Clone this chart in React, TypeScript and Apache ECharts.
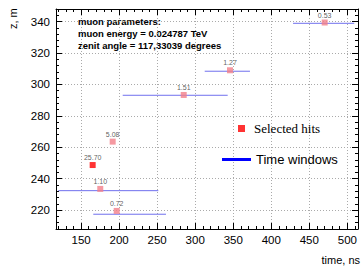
import React, { useEffect, useRef } from "react";
import * as echarts from "echarts";

const hitTime = [470.2, 345.7, 284.9, 191.5, 165.2, 175.2, 196.8];
const hitZ = [339.4, 309.0, 293.3, 263.6, 248.7, 233.5, 219.5];
const hitLabel = ["0.53", "1.27", "1.51", "5.08", "25.70", "1.10", "0.72"];
const hitColor = ["#f2808a", "#f2808a", "#f2808a", "#f2808a", "#ff0000", "#f2808a", "#f2808a"];

const winStart = [428.6, 312.5, 204.7, 120.0, 166.0];
const winEnd = [509.0, 372.0, 342.7, 251.5, 261.6];
const winZ = [338.9, 308.4, 293.1, 232.4, 217.4];

const infoLines = [
  "muon parameters:",
  "muon energy = 0.024787 TeV",
  "zenit angle = 117,33039 degrees",
];

const X_MIN = 117;
const X_MAX = 514;
const Y_MIN = 208;
const Y_MAX = 348;

const FONT = "'Liberation Sans', Arial, sans-serif";

export default function App() {
  const ref = useRef<HTMLDivElement>(null);
  useEffect(() => {
    if (!ref.current) return;
    const chart = echarts.init(ref.current, null, { renderer: "svg" });
    const tickCommon = {
      axisTick: { show: true, inside: true, length: 6, lineStyle: { color: "#000" } },
      minorTick: { show: true, splitNumber: 5, length: 3, lineStyle: { color: "#000" } },
      axisLine: { show: true, onZero: false, lineStyle: { color: "#000", width: 1 } },
    };
    const xBase = {
      type: "value" as const,
      min: X_MIN,
      max: X_MAX,
      splitNumber: 8,
      ...tickCommon,
    };
    const yBase = {
      type: "value" as const,
      min: Y_MIN,
      max: Y_MAX,
      splitNumber: 7,
      ...tickCommon,
    };
    const windowSeries = winStart.map((s, i) => ({
      type: "line" as const,
      name: "Time windows",
      data: [
        [s, winZ[i]],
        [winEnd[i], winZ[i]],
      ],
      showSymbol: false,
      symbol: "none",
      lineStyle: { color: "#7070ee", width: 1 },
      itemStyle: { color: "#0000ff" },
      z: 2,
    }));
    chart.setOption({
      animation: false,
      grid: { left: 56, right: 6, top: 9, bottom: 37 },
      xAxis: [
        {
          ...xBase,
          position: "bottom",
          axisLabel: {
            show: true,
            showMinLabel: false,
            showMaxLabel: false,
            fontSize: 11.5,
            color: "#000",
            fontFamily: FONT,
            margin: 5,
          },
          splitLine: { show: true, lineStyle: { color: "#aaa", type: [1, 2], width: 1 } },
        },
        {
          ...xBase,
          position: "top",
          axisLabel: { show: false },
          splitLine: { show: false },
        },
      ],
      yAxis: [
        {
          ...yBase,
          position: "left",
          axisLabel: {
            show: true,
            showMinLabel: false,
            showMaxLabel: false,
            fontSize: 11.5,
            color: "#000",
            fontFamily: FONT,
            margin: 6,
          },
          splitLine: { show: true, lineStyle: { color: "#aaa", type: [1, 2], width: 1 } },
        },
        {
          ...yBase,
          position: "right",
          axisLabel: { show: false },
          splitLine: { show: false },
        },
      ],
      legend: [
        {
          data: [{ name: "Selected hits", icon: "rect", itemStyle: { color: "#ff0000" } }],
          left: 238,
          top: 122,
          padding: 0,
          itemWidth: 7,
          itemHeight: 7,
          itemGap: 0,
          selectedMode: false,
          textStyle: { fontFamily: "'Liberation Serif', 'DejaVu Serif', serif", fontSize: 13, color: "#000", padding: [0, 0, 0, 4] },
        },
        {
          data: [{ name: "Time windows", icon: "rect", itemStyle: { color: "#0000ff" } }],
          left: 222,
          top: 153,
          padding: 0,
          itemWidth: 29,
          itemHeight: 3,
          itemGap: 0,
          selectedMode: false,
          textStyle: { fontFamily: FONT, fontSize: 13, color: "#000" },
        },
      ],
      series: [
        ...windowSeries,
        {
          type: "scatter",
          name: "Selected hits",
          symbol: "rect",
          symbolSize: 6,
          itemStyle: { color: "#ff0000" },
          data: hitTime.map((t, i) => ({
            value: [t, hitZ[i]],
            itemStyle: { color: hitColor[i] },
            label: { formatter: hitLabel[i] },
          })),
          label: {
            show: true,
            position: "top",
            distance: 1,
            fontSize: 7,
            color: "#333",
            fontFamily: FONT,
          },
          z: 3,
        },
      ],
      graphic: [
        ...infoLines.map((t, i) => ({
          type: "text",
          left: 78,
          top: 16 + i * 12,
          style: {
            text: t,
            fontSize: 9.5,
            fontWeight: "bold",
            fontFamily: FONT,
            fill: "#000",
          },
        })),
        {
          type: "text",
          x: 18,
          y: 29,
          rotation: Math.PI / 2,
          style: {
            text: "z, m",
            fontSize: 11,
            fontFamily: FONT,
            fill: "#000",
            align: "left",
            verticalAlign: "bottom",
          },
        },
        {
          type: "text",
          right: 4,
          top: 254,
          style: {
            text: "time, ns",
            fontSize: 11,
            fontFamily: FONT,
            fill: "#000",
          },
        },
      ],
    });
    return () => chart.dispose();
  }, []);
  return <div ref={ref} style={{ width: 364, height: 266, position: "absolute", left: 0, top: 0 }} />;
}
